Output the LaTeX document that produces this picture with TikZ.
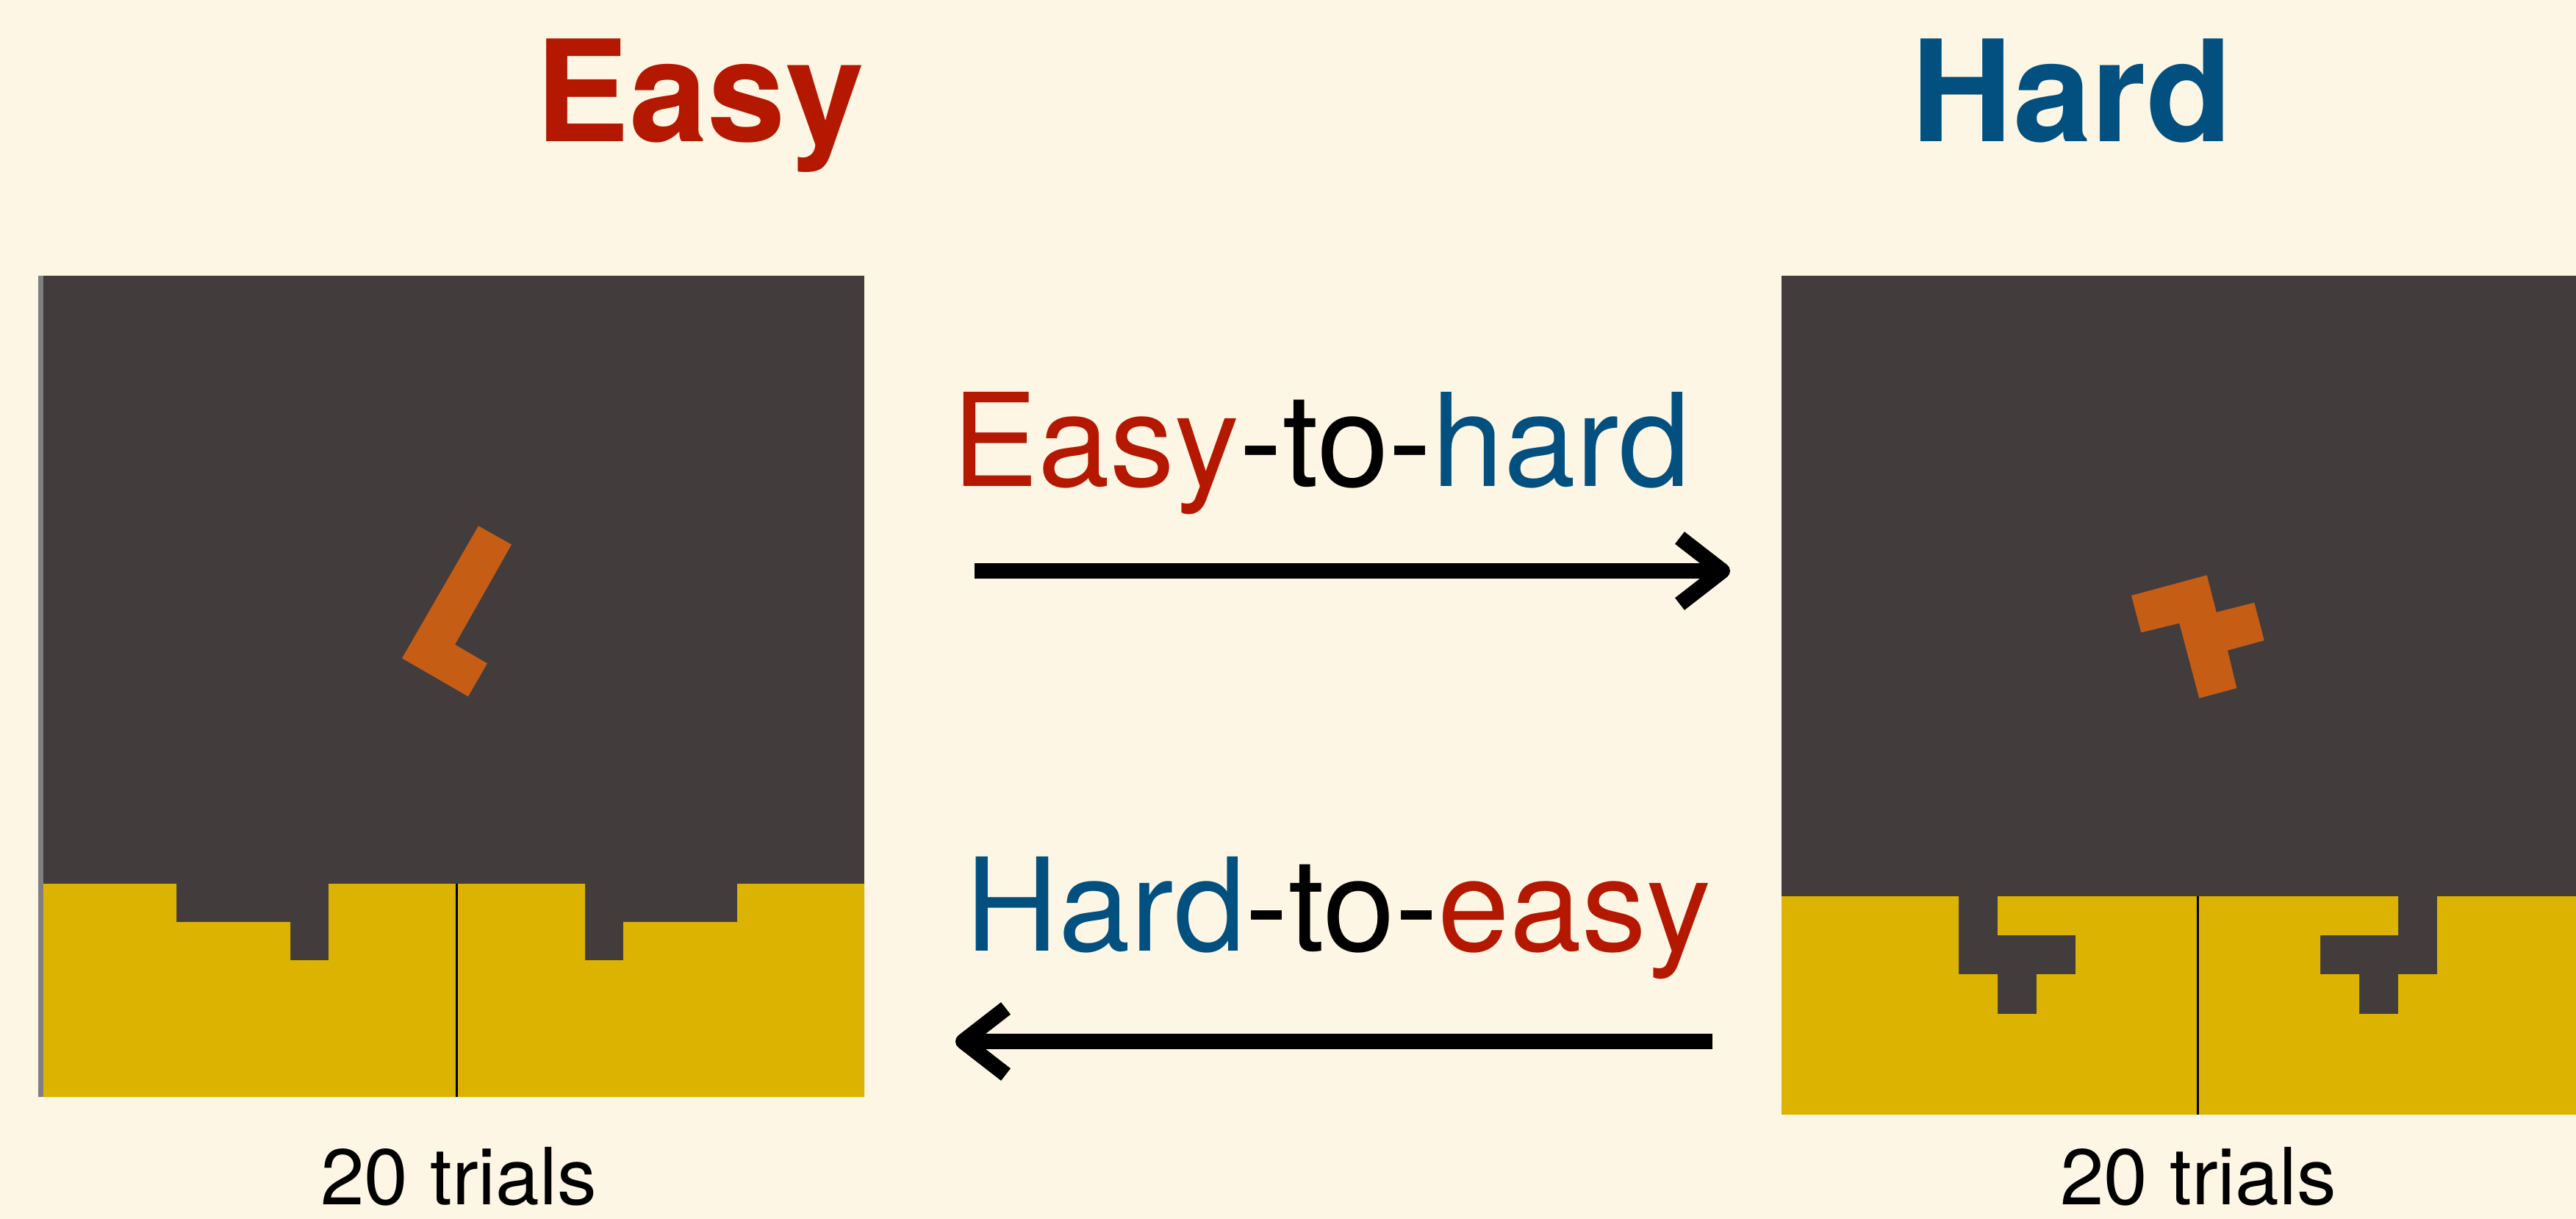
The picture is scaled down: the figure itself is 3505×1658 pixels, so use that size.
\documentclass[tikz,border=0pt]{standalone}
\usepackage{fontspec}
\setmainfont{TeX Gyre Heros}
\usetikzlibrary{arrows.meta}
\definecolor{bgcream}{RGB}{254,246,228}
\definecolor{panelgray}{RGB}{66,60,61}
\definecolor{slotyellow}{RGB}{219,179,0}
\definecolor{pieceorange}{RGB}{198,93,21}
\definecolor{easyred}{RGB}{180,24,0}
\definecolor{hardblue}{RGB}{2,80,128}
\definecolor{edgegray}{RGB}{128,128,128}
\tikzset{
  titletext/.style={anchor=base, inner sep=0pt, font=\fontsize{54.5}{60}\selectfont\bfseries},
  midtext/.style={anchor=base, inner sep=0pt, font=\fontsize{50}{56}\selectfont},
  trialtext/.style={anchor=base, inner sep=0pt, font=\fontsize{30.5}{36}\selectfont, text=black},
  dirarrow/.style={line width=0.21cm, black, -{Straight Barb[length=0.58cm,width=0.9cm,line cap=butt,line join=round]}},
  panelfill/.style={fill=panelgray},
  slotfill/.style={fill=slotyellow},
  piecefill/.style={fill=pieceorange},
  divider/.style={line width=0.03cm, black},
}
\begin{document}
\begin{tikzpicture}[x=0.01cm, y=-0.01cm]
\useasboundingbox (0,0) rectangle (3505,1658);
\fill[bgcream] (0,0) rectangle (3505,1658);

% titles
\node[titletext, text=easyred] (teasy) at (952,193) {Easy};
\node[titletext, text=hardblue] (thard) at (2819,193) {Hard};

% left panel (easy)
\fill[panelfill] (52,375) rectangle (1176,1492);
\fill[slotfill] (59,1202) -- (240,1202) -- (240,1254) -- (395,1254) -- (395,1306) -- (447,1306)
  -- (447,1202) -- (796,1202) -- (796,1306) -- (848,1306) -- (848,1254) -- (1003,1254)
  -- (1003,1202) -- (1176,1202) -- (1176,1492) -- (59,1492) -- cycle;
\fill[edgegray] (52,375) rectangle (59,1492);
\coordinate (ldivtop) at (621,1202);
\coordinate (ldivbot) at (621,1492);
\draw[divider] (ldivtop) -- (ldivbot);
\fill[piecefill] (651,715.3) -- (696,740.7) -- (619,876.7) -- (663,902.3) -- (637,947.3) -- (547,895.3) -- cycle;

% right panel (hard)
\fill[panelfill] (2424,375) rectangle (3505,1516);
\fill[slotfill] (2424,1219) -- (2665,1219) -- (2665,1325) -- (2718,1325) -- (2718,1379) -- (2771,1379)
  -- (2771,1325) -- (2824,1325) -- (2824,1272) -- (2718,1272) -- (2718,1219) -- (3263,1219)
  -- (3263,1272) -- (3157,1272) -- (3157,1325) -- (3210,1325) -- (3210,1379) -- (3263,1379)
  -- (3263,1325) -- (3316,1325) -- (3316,1219) -- (3505,1219) -- (3505,1516) -- (2424,1516) -- cycle;
\coordinate (rdivtop) at (2990,1219);
\coordinate (rdivbot) at (2990,1516);
\draw[divider] (rdivtop) -- (rdivbot);
\fill[piecefill] (2900,810) -- (3002.7,782.3) -- (3015.7,832.7) -- (3067.3,819.7) -- (3080.7,871)
  -- (3031,884.7) -- (3043.3,936) -- (2992.3,949.7) -- (2965.3,847.7) -- (2913.3,860.3) -- cycle;

% middle labels
\node[midtext] (e2h) at (1798,662) {\textcolor{easyred}{Easy}-to-\textcolor{hardblue}{hard}};
\node[midtext] (h2e) at (1821,1293) {\textcolor{hardblue}{Hard}-to-\textcolor{easyred}{easy}};

% arrows
\coordinate (a1s) at (1326,776.5);
\coordinate (a1e) at (2354,776.5);
\draw[dirarrow] (a1s) -- (a1e);
\coordinate (a2s) at (2330,1416.5);
\coordinate (a2e) at (1300,1416.5);
\draw[dirarrow] (a2s) -- (a2e);

% trial counts
\node[trialtext] (ltrials) at (624,1638) {20 trials};
\node[trialtext] (rtrials) at (2991,1638) {20 trials};
\end{tikzpicture}
\end{document}
